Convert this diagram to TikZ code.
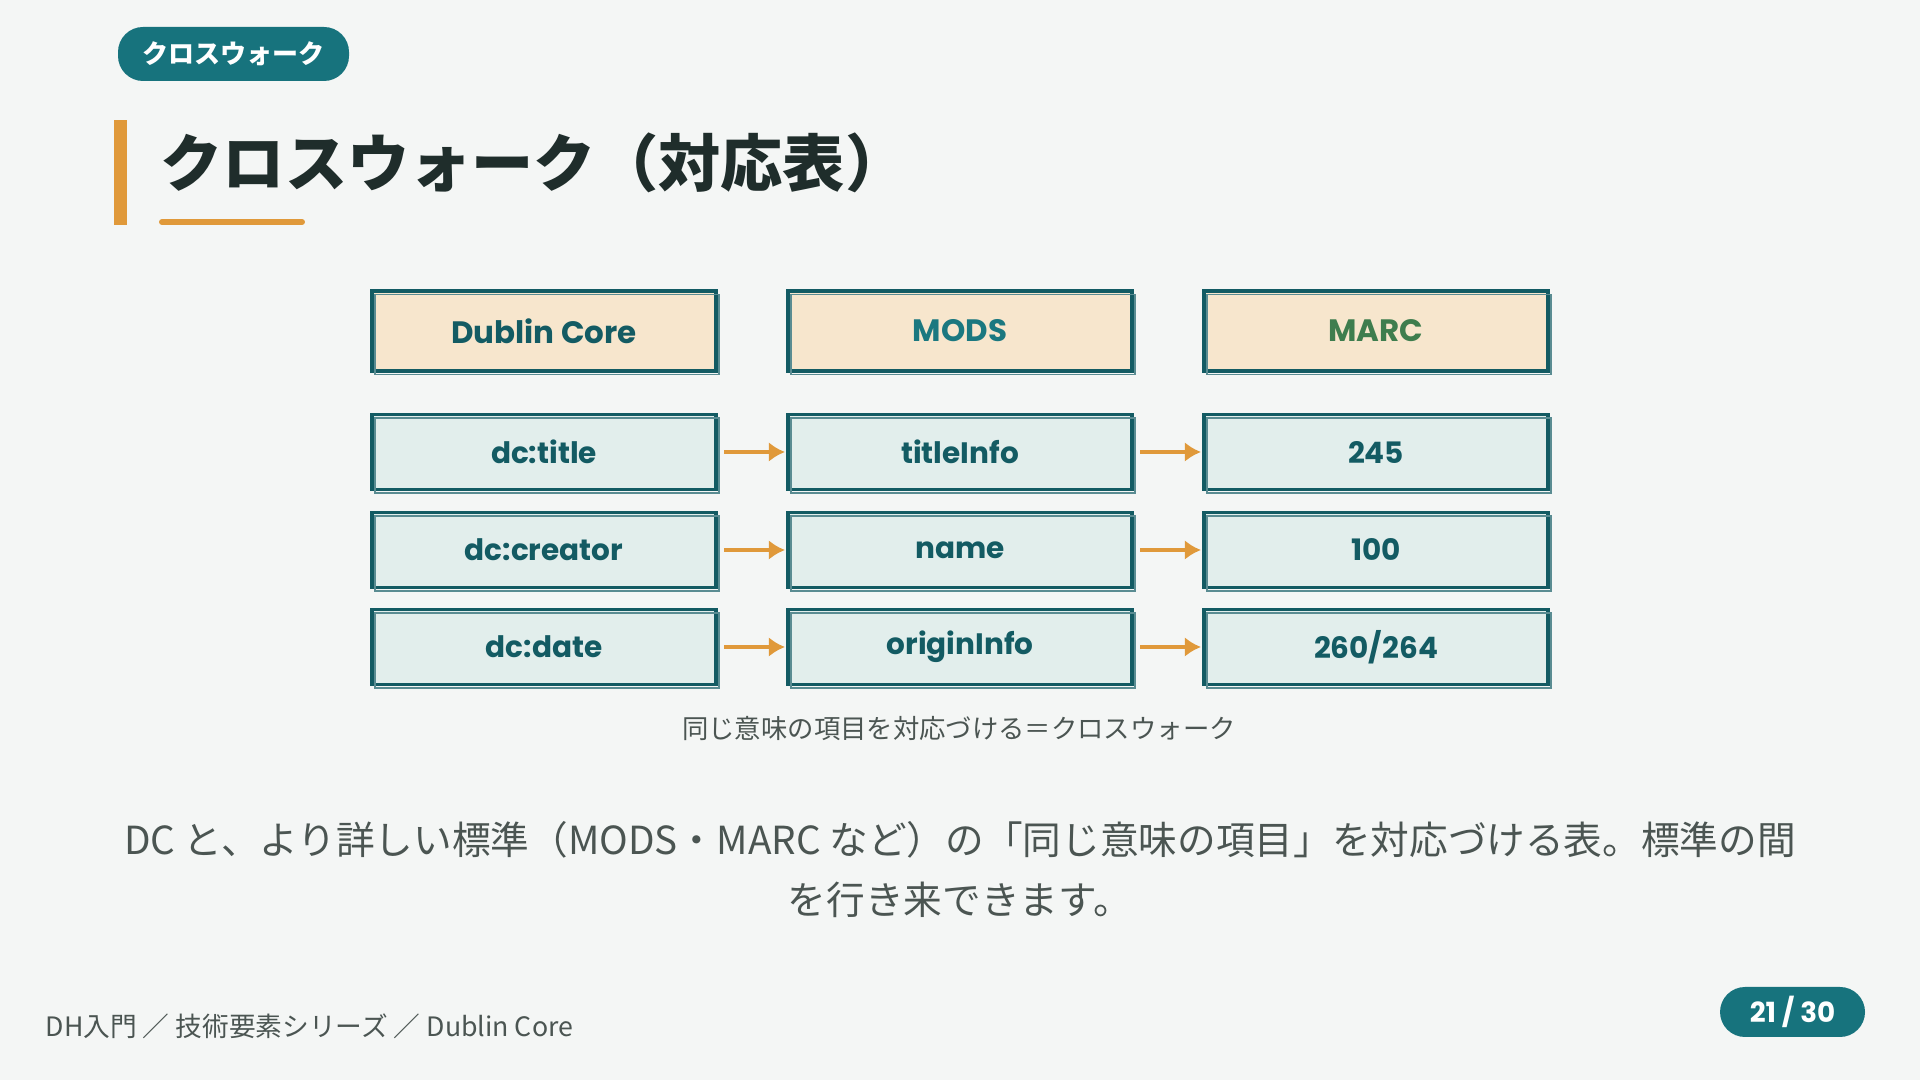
\documentclass[tikz,border=0pt]{standalone}
\usepackage{fontspec}
\setmainfont{Noto Sans CJK JP}
\newfontfamily\labelfont{Poppins}
\usetikzlibrary{arrows.meta,positioning}
\definecolor{paper}{HTML}{F4F6F5}
\definecolor{teal}{HTML}{17737D}
\definecolor{amber}{HTML}{E0993A}
\definecolor{ink}{HTML}{1F2D2B}
\definecolor{boxline}{HTML}{135B63}
\definecolor{headfill}{HTML}{F7E6CD}
\definecolor{rowfill}{HTML}{E2EEEC}
\definecolor{modsc}{HTML}{1B7880}
\definecolor{marcc}{HTML}{3E7D4E}
\definecolor{grey}{HTML}{4B5552}

\begin{document}
\begin{tikzpicture}[
  >=Latex,
  sketch/.style={draw=boxline,line width=1.1pt,minimum width=3.44cm,
    postaction={draw=boxline!70,line width=0.45pt,
      transform canvas={shift={(0.03,-0.035)}}}},
  headbox/.style={sketch,fill=headfill,minimum height=0.80cm,
    font=\labelfont\bfseries\fontsize{8.8}{10}\selectfont},
  fieldbox/.style={sketch,fill=rowfill,minimum height=0.75cm,text=boxline,
    font=\labelfont\bfseries\fontsize{8.4}{10}\selectfont},
  maps/.style={draw=amber,line width=1.3pt,shorten <=1.8pt,
    shorten >=0.3pt,arrows={-Latex[length=4.6pt,width=5.6pt]}},
  pill/.style={fill=teal,text=white,rounded corners=0.25cm,inner sep=0pt}
]
  \fill[paper] (0,0) rectangle (19.2,10.8);

  % heading
  \node[pill,minimum width=2.31cm,minimum height=0.54cm,
    font=\bfseries\fontsize{7.4}{9}\selectfont] (tag) at (2.335,10.26)
    {クロスウォーク};
  \fill[amber] (1.14,8.55) rectangle (1.27,9.60);
  \node[anchor=west,inner sep=0pt,text=ink,
    font=\bfseries\fontsize{17.7}{20}\selectfont] (title) at (1.60,9.17)
    {クロスウォーク（対応表）};
  \draw[amber,line width=1.7pt,line cap=round] (1.62,8.58) -- (3.02,8.58);

  % standards
  \node[headbox,text=boxline] (dc)   at (5.44,7.49) {Dublin Core};
  \node[headbox,text=modsc]   (mods) at (9.60,7.49) {MODS};
  \node[headbox,text=marcc]   (marc) at (13.76,7.49) {MARC};

  % fields
  \node[fieldbox] (dctitle)   at (5.44,6.28) {dc:title};
  \node[fieldbox] (titleinfo) at (9.60,6.28) {titleInfo};
  \node[fieldbox] (m245)      at (13.76,6.28) {245};

  \node[fieldbox] (dccreator) at (5.44,5.30) {dc:creator};
  \node[fieldbox] (name)      at (9.60,5.30) {name};
  \node[fieldbox] (m100)      at (13.76,5.30) {100};

  \node[fieldbox] (dcdate)     at (5.44,4.33) {dc:date};
  \node[fieldbox] (origininfo) at (9.60,4.33) {originInfo};
  \node[fieldbox] (m260)       at (13.76,4.33) {260/264};

  \draw[maps] (dctitle) -- (titleinfo);
  \draw[maps] (titleinfo) -- (m245);
  \draw[maps] (dccreator) -- (name);
  \draw[maps] (name) -- (m100);
  \draw[maps] (dcdate) -- (origininfo);
  \draw[maps] (origininfo) -- (m260);

  \node[text=grey,font=\fontsize{7.5}{9}\selectfont] (caption)
    at (9.59,3.51) {同じ意味の項目を対応づける＝クロスウォーク};

  % explanation
  \node[text=grey,font=\fontsize{11.0}{12}\selectfont] (line1) at (9.6,2.40)
    {DC と、より詳しい標準（MODS・MARC など）の「同じ意味の項目」を対応づける表。標準の間};
  \node[text=grey,font=\fontsize{11.0}{12}\selectfont] (line2) at (9.6,1.80)
    {を行き来できます。};

  % footer
  \node[anchor=west,inner sep=0pt,text=grey,
    font=\fontsize{7.6}{9}\selectfont] (trail) at (0.45,0.54)
    {DH入門 ／ 技術要素シリーズ ／ Dublin Core};
  \node[pill,minimum width=1.45cm,minimum height=0.50cm,
    font=\labelfont\bfseries\fontsize{7.9}{9}\selectfont] (page)
    at (17.925,0.68) {21 / 30};
\end{tikzpicture}
\end{document}
